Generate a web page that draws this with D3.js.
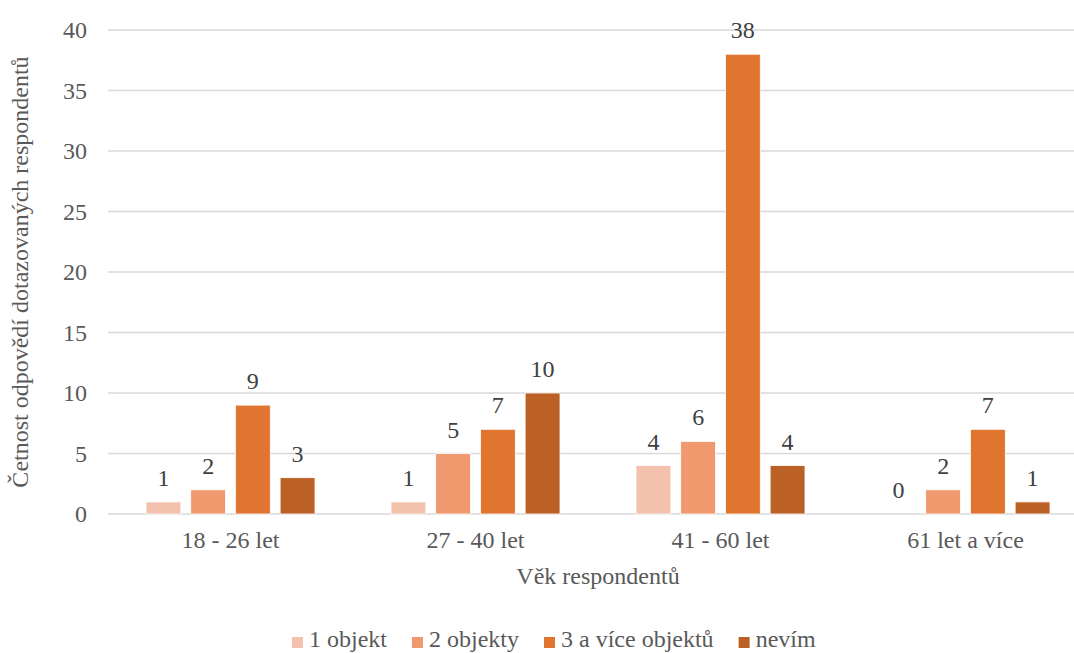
<!DOCTYPE html>
<html>
<head>
<meta charset="utf-8">
<script src="https://cdn.jsdelivr.net/npm/d3@7"></script>
</head>
<body style="margin:0">
<script>
// data
const categories = ['18 - 26 let', '27 - 40 let', '41 - 60 let', '61 let a více'];
const seriesNames = ['1 objekt', '2 objekty', '3 a více objektů', 'nevím'];
const obj1 = [1, 1, 4, 0];
const obj2 = [2, 5, 6, 2];
const obj3 = [9, 7, 38, 7];
const nevim = [3, 10, 4, 1];
const yTicks = [0, 5, 10, 15, 20, 25, 30, 35, 40];
const colors = ['#F4C1AD', '#F0996F', '#DF752F', '#BB6125'];

const seriesValues = [obj1, obj2, obj3, nevim];
const rows = categories.map((c, i) => ({
  cat: c,
  values: seriesNames.map((s, k) => ({ key: s, value: seriesValues[k][i] }))
}));

const width = 1074, height = 653;
const margin = { top: 30, right: -14, bottom: 139, left: 108 };
const innerW = width - margin.left - margin.right;
const innerH = height - margin.top - margin.bottom;
const fontSize = 24;
const fontFam = '"Liberation Serif", monospace';

// apply font to a text selection
function serifText(sel, color) {
  sel.style('font-family', fontFam, 'important')
    .style('font-size', fontSize + 'px')
    .attr('fill', color);
}

const svg = d3.select('body').append('svg')
  .attr('width', width)
  .attr('height', height);

const g = svg.append('g')
  .attr('transform', `translate(${margin.left},${margin.top})`);

const y = d3.scaleLinear().domain([0, 40]).range([innerH, 0]);
const x0 = d3.scaleBand().domain(categories).range([0, innerW]).padding(0);
const x1 = d3.scaleBand().domain(seriesNames)
  .range([38, x0.bandwidth() - 38])
  .paddingInner(0.22).paddingOuter(0);

// gridlines
g.append('g')
  .selectAll('line')
  .data(yTicks)
  .enter()
  .append('line')
  .attr('x1', 0)
  .attr('x2', innerW)
  .attr('y1', d => y(d))
  .attr('y2', d => y(d))
  .attr('stroke', '#D9D9D9')
  .attr('stroke-width', 1.5);

// y axis labels
const yAxis = d3.axisLeft(y).tickValues(yTicks).tickSize(0).tickPadding(21);
g.append('g')
  .call(yAxis)
  .call(s => s.select('.domain').remove())
  .selectAll('text')
  .call(serifText, '#595959');

// x axis labels
const xAxis = d3.axisBottom(x0).tickSize(0).tickPadding(17);
g.append('g')
  .attr('transform', `translate(0,${innerH})`)
  .call(xAxis)
  .call(s => s.select('.domain').remove())
  .selectAll('text')
  .call(serifText, '#595959');

// bars
const groups = g.selectAll('.grp')
  .data(rows)
  .enter()
  .append('g')
  .attr('class', 'grp')
  .attr('transform', d => `translate(${x0(d.cat)},0)`);

groups.selectAll('rect')
  .data(d => d.values)
  .enter()
  .append('rect')
  .attr('x', d => x1(d.key))
  .attr('width', x1.bandwidth())
  .attr('y', d => y(d.value))
  .attr('height', d => innerH - y(d.value))
  .attr('fill', (d, k) => colors[k])
  .attr('stroke', '#fff')
  .attr('stroke-width', 0.8);

groups.selectAll('text.val')
  .data(d => d.values)
  .enter()
  .append('text')
  .attr('class', 'val')
  .attr('x', d => x1(d.key) + x1.bandwidth() / 2)
  .attr('y', d => y(d.value) - 16)
  .attr('text-anchor', 'middle')
  .call(serifText, '#404040')
  .text(d => d.value);

// axis titles
svg.append('text')
  .attr('x', 598)
  .attr('y', 584)
  .attr('text-anchor', 'middle')
  .call(serifText, '#595959')
  .text('Věk respondentů');

svg.append('text')
  .attr('transform', `translate(28,272) rotate(-90)`)
  .attr('text-anchor', 'middle')
  .call(serifText, '#595959')
  .text('Četnost odpovědí dotazovaných respondentů');

// legend
const legend = svg.append('g').attr('transform', 'translate(292,0)');
let lx = 0;
seriesNames.forEach((name, k) => {
  const item = legend.append('g').attr('transform', `translate(${lx},0)`);
  item.append('rect')
    .attr('x', 0).attr('y', 637)
    .attr('width', 11).attr('height', 11)
    .attr('fill', colors[k]);
  const t = item.append('text')
    .attr('x', 17).attr('y', 647)
    .call(serifText, '#595959')
    .text(name);
  lx += 17 + t.node().getComputedTextLength() + 25;
});
</script>
</body>
</html>
